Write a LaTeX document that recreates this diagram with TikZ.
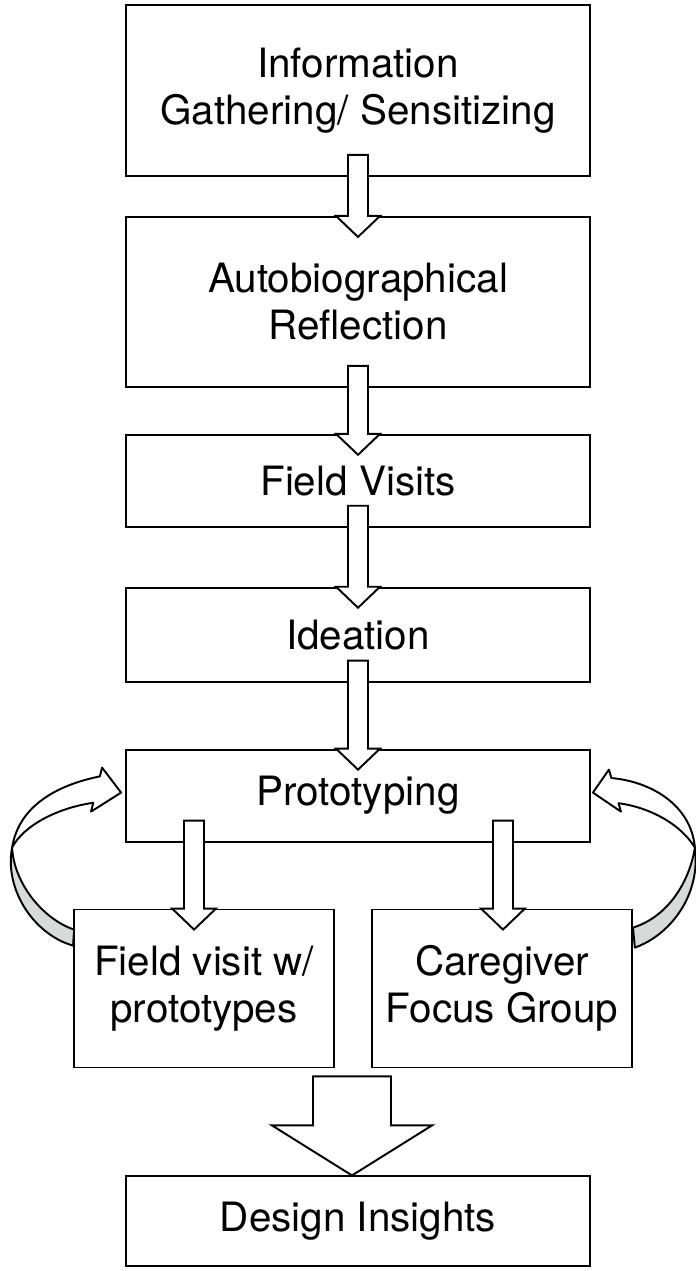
\documentclass[tikz,border=0pt]{standalone}
\usepackage{fontspec}
\setmainfont{TeX Gyre Heros}
\usetikzlibrary{positioning,calc}
\definecolor{rg}{RGB}{216,218,218}
\tikzset{
    box/.style =    {rectangle,
                    fill=white,
                    draw=black,
                    text=black,
                    line width=1.1pt,
                    align=center,
                    minimum width=9.28cm,
                    font=\fontsize{23}{26.7}\selectfont},
    halfbox/.style = {box,
                    minimum width=5.2cm,
                    minimum height=3.16cm},
    flow/.style =   {fill=white,
                    draw=black,
                    line width=1.1pt,
                    line join=miter},
    ribbon/.style = {fill=white,
                    draw=black,
                    line width=1.1pt,
                    line join=round},
    twist/.style =  {ribbon,
                    fill=rg}}

% block arrow from one box down into the next
\newcommand{\flowarrow}[3][0]{%
    \draw[flow] ($(#2.south -| #3.north)+(#1-10,-22)$) -- ($(#3.north)+(#1-10,0)$)
        -- ++(-12,0) -- ($(#3.north)+(#1,21)$) -- ($(#3.north)+(#1+22,0)$)
        -- ++(-12,0) -- ($(#2.south -| #3.north)+(#1+10,-22)$) -- cycle;}

\begin{document}
\begin{tikzpicture}[x=0.02cm,y=-0.02cm]
    \useasboundingbox (0,0) rectangle (696,1271);
    \node[box, minimum height=3.42cm] (info)       at (358,90.5)        {Information\\Gathering/ Sensitizing};
    \node[box, minimum height=3.4cm]  (auto)       [below=0.78cm of info]  {Autobiographical\\Reflection};
    \node[box, minimum height=1.84cm] (visits)     [below=0.92cm of auto]  {Field Visits};
    \node[box, minimum height=1.88cm] (ideation)   [below=1.18cm of visits] {Ideation};
    \node[box, minimum height=1.84cm] (proto)      [below=1.32cm of ideation] {Prototyping};
    \node[halfbox]                    (fieldproto) [below=1.32cm of proto, xshift=-3.08cm] {Field visit w/\\prototypes};
    \node[halfbox]                    (caregiver)  [below=1.32cm of proto, xshift=2.88cm]  {Caregiver\\Focus Group};
    \node[box, minimum height=1.8cm]  (insights)   [below=2.14cm of fieldproto, xshift=3.08cm] {Design Insights};

    \flowarrow{info}{auto}
    \flowarrow{auto}{visits}
    \flowarrow{visits}{ideation}
    \flowarrow{ideation}{proto}
    \flowarrow[-10]{proto}{fieldproto}
    \flowarrow[1]{proto}{caregiver}
    \draw[flow] ($(fieldproto.south -| insights.north)+(-45,8)$) -- ($(insights.north)+(-45,-50)$)
        -- ++(-41,0) -- ($(insights.north)+(-6,0)$) -- ($(insights.north)+(74,-50)$)
        -- ++(-41,0) -- ($(fieldproto.south -| insights.north)+(33,8)$) -- cycle;

    % feedback loops back into prototyping
    \begin{scope}[shift={(proto.west)}]
        \draw[twist] (-113,52) .. controls (-121,94) and (-91,139) .. (-52,150)
            -- (-51,134) .. controls (-81,124) and (-111,89) .. (-113,52) -- cycle;
        \draw[ribbon] (-113,52) .. controls (-106,9) and (-66,-11) .. (-25.2,-19.2)
            -- (-23,-28) -- (-4,-3) -- (-34,16) -- (-31.8,7.2)
            .. controls (-66,12) and (-101,29) .. (-113,52) -- cycle;
    \end{scope}
    \begin{scope}[shift={(proto.east)}]
        \draw[twist] (104,52) .. controls (110,99) and (80,139) .. (44,152)
            -- (42,132) .. controls (75,122) and (98,89) .. (104,52) -- cycle;
        \draw[ribbon] (104,52) .. controls (100,9) and (60,-14) .. (20.4,-17.6)
            -- (18,-26) -- (2,-3) -- (30,16) -- (27.6,7.6)
            .. controls (60,12) and (90,29) .. (104,52) -- cycle;
    \end{scope}
\end{tikzpicture}
\end{document}
